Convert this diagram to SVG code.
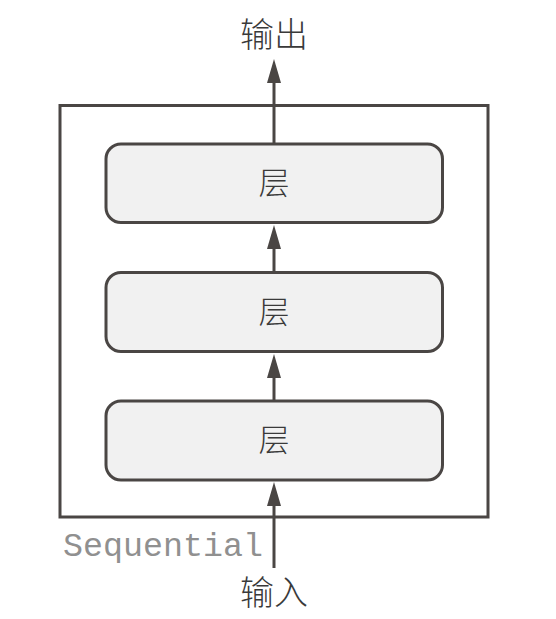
<svg xmlns="http://www.w3.org/2000/svg" width="556" height="619" viewBox="0 0 556 619">
<style>
.box{fill:#f1f1f1;stroke:#4a4644;stroke-width:3}
.frame{fill:none;stroke:#4a4644;stroke-width:3}
.cn{font-family:"Noto Sans CJK SC",sans-serif;font-weight:300;fill:#3a3a3a;text-anchor:middle}
.line{stroke:#4a4644;stroke-width:3;fill:none}
.mono{font-family:"Liberation Mono",monospace;fill:#909090}
</style>
<defs>
<marker id="ah" markerUnits="userSpaceOnUse" markerWidth="24" markerHeight="14" refX="0" refY="7" orient="auto" viewBox="0 0 24 14">
<path d="M0,0 L24,7 L0,14 Z" fill="#4a4644"/>
</marker>
</defs>
<g id="sequential">
<rect class="frame" x="60" y="105.5" width="428" height="411.5"/>
<text class="mono" x="63" y="556" font-size="33" textLength="200" lengthAdjust="spacingAndGlyphs">Sequential</text>
</g>
<g id="layer1">
<rect class="box" x="106" y="144" width="336.5" height="78.5" rx="15"/>
<text class="cn" x="274" y="194" font-size="31">层</text>
</g>
<g id="layer2">
<rect class="box" x="106" y="272.5" width="336.5" height="79" rx="15"/>
<text class="cn" x="274" y="323" font-size="31">层</text>
</g>
<g id="layer3">
<rect class="box" x="106" y="401" width="336.5" height="79" rx="15"/>
<text class="cn" x="274" y="451" font-size="31">层</text>
</g>
<g id="output">
<text class="cn" x="274" y="47" font-size="34">输出</text>
</g>
<g id="input">
<text class="cn" x="274" y="605" font-size="34">输入</text>
</g>
<g id="connectors">
<line class="line" x1="274" y1="144" x2="274" y2="83" marker-end="url(#ah)"/>
<line class="line" x1="274" y1="272" x2="274" y2="249" marker-end="url(#ah)"/>
<line class="line" x1="274" y1="400" x2="274" y2="378" marker-end="url(#ah)"/>
<line class="line" x1="274" y1="568" x2="274" y2="506" marker-end="url(#ah)"/>
</g>
</svg>
